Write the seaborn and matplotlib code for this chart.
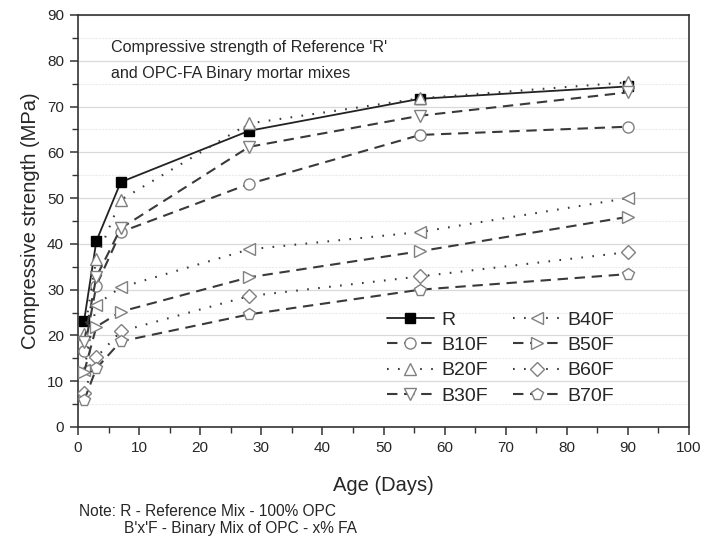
import matplotlib
matplotlib.use("Agg")
import matplotlib.pyplot as plt
from matplotlib.ticker import MultipleLocator
import pandas as pd
import seaborn as sns

# Curing ages (days)
ages = [1, 3, 7, 28, 56, 90]

# Compressive strength (MPa) for each mix
r_mix = [23.2, 40.6, 53.5, 64.7, 71.7, 74.4]
b10f = [16.6, 30.9, 42.6, 53.1, 63.8, 65.6]
b20f = [20.3, 36.8, 49.6, 66.3, 71.8, 75.3]
b30f = [18.6, 32.8, 43.4, 61.2, 68.0, 73.1]
b40f = [12.4, 26.7, 30.5, 38.8, 42.6, 50.0]
b50f = [12.0, 21.9, 25.2, 32.7, 38.4, 45.9]
b60f = [7.4, 15.2, 20.9, 28.6, 32.9, 38.2]
b70f = [5.8, 12.8, 18.7, 24.6, 30.0, 33.4]

mix_names = ["R", "B10F", "B20F", "B30F", "B40F", "B50F", "B60F", "B70F"]
mix_values = [r_mix, b10f, b20f, b30f, b40f, b50f, b60f, b70f]

df = pd.DataFrame(
    [(name, a, v) for name, vals in zip(mix_names, mix_values) for a, v in zip(ages, vals)],
    columns=["mix", "age", "strength"],
)

sns.set_style("ticks")
plt.rcParams["font.family"] = ["Liberation Sans", "DejaVu Sans"]
text_col = "#262626"

dashed = (0, (5, 3.2))
dotted = (0, (0.8, 4.5))
styles = {
    "R": dict(ls="-", marker="s", mfc="black", mec="black", ms=6.5, lw=1.3, color="#222222"),
    "B10F": dict(ls=dashed, marker="o", ms=8),
    "B20F": dict(ls=dotted, marker="^", ms=9),
    "B30F": dict(ls=dashed, marker="v", ms=9),
    "B40F": dict(ls=dotted, marker="<", ms=9),
    "B50F": dict(ls=dashed, marker=">", ms=9),
    "B60F": dict(ls=dotted, marker="D", ms=7.5),
    "B70F": dict(ls=dashed, marker="p", ms=8.5),
}

fig = plt.figure(figsize=(7.04, 5.38), dpi=100)
ax = fig.add_axes([78 / 704, 1 - 427 / 538, 611 / 704, 412 / 538])

for name in mix_names:
    st = dict(styles[name])
    ls = st.pop("ls")
    kw = dict(color="#3a3a3a", lw=1.5, mfc="white", mec="#808080", mew=1.0)
    kw.update(st)
    sns.lineplot(
        data=df[df["mix"] == name], x="age", y="strength", ax=ax,
        label=name, linestyle=ls, markeredgewidth=kw["mew"],
        color=kw["color"], linewidth=kw["lw"], marker=kw["marker"],
        markersize=kw["ms"], markerfacecolor=kw["mfc"], markeredgecolor=kw["mec"],
        zorder=3,
    )

ax.set_xlim(0, 100)
ax.set_ylim(0, 90)
ax.xaxis.set_major_locator(MultipleLocator(10))
ax.xaxis.set_minor_locator(MultipleLocator(5))
ax.yaxis.set_major_locator(MultipleLocator(10))
ax.yaxis.set_minor_locator(MultipleLocator(5))

ax.grid(axis="y", which="major", color="#d9d9d9", lw=0.9, zorder=0)
ax.grid(axis="y", which="minor", color="#ebebeb", lw=0.8, ls=(0, (2, 1)), zorder=0)
ax.set_axisbelow(True)

for sp in ax.spines.values():
    sp.set_color("#333333")
    sp.set_linewidth(1.2)

ax.tick_params(axis="both", which="major", direction="out", length=6, width=1.1,
               color="#333333", labelsize=11, labelcolor=text_col, pad=4)
ax.tick_params(axis="both", which="minor", direction="out", length=4, width=1.0,
               color="#333333")

ax.set_xlabel("Age (Days)", fontsize=14.5, color=text_col, labelpad=15)
ax.set_ylabel("Compressive strength (MPa)", fontsize=14.5, color=text_col, labelpad=5)

ax.text(0.054, 0.920, "Compressive strength of Reference 'R'", transform=ax.transAxes,
        fontsize=11.6, color=text_col, va="center", ha="left")
ax.text(0.054, 0.859, "and OPC-FA Binary mortar mixes", transform=ax.transAxes,
        fontsize=11.6, color=text_col, va="center", ha="left")

handles, labels = ax.get_legend_handles_labels()
ax.legend(handles, labels, ncol=2, frameon=False, loc="upper left",
          bbox_to_anchor=((387 - 78) / 611, (427 - 311) / 412),
          fontsize=14, handlelength=2.4, handletextpad=0.4, columnspacing=1.3,
          labelspacing=0.40, borderpad=0, borderaxespad=0, labelcolor=text_col)

fig.text(79 / 704, 1 - 512 / 538, "Note: R - Reference Mix - 100% OPC",
         fontsize=11.2, color=text_col, va="center", ha="left")
fig.text(124 / 704, 1 - 528 / 538, "B'x'F - Binary Mix of OPC - x% FA",
         fontsize=11.2, color=text_col, va="center", ha="left")

fig.savefig("out.png", dpi=100)
